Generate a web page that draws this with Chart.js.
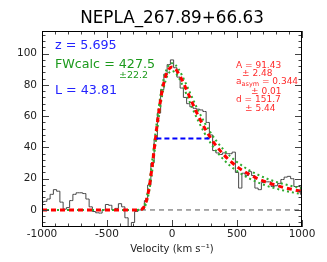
<!DOCTYPE html>
<html>
<head>
<meta charset="utf-8">
<script src="https://cdn.jsdelivr.net/npm/chart.js@4.4.1/dist/chart.umd.min.js"></script>
<style>
  html, body { margin: 0; padding: 0; background: #fff; }
</style>
</head>
<body>
<canvas id="myChart" width="327" height="262"></canvas>
<script>
  // observed spectrum (velocity bins, flux)
  var specVel = [-1000,-975,-950,-925,-900,-875,-850,-825,-800,-775,-750,-725,-700,-675,-650,-625,-600,-575,-550,-525,
                 -500,-475,-450,-425,-400,-375,-350,-325,-300,-275,-250,-225,-200,-175,-150,-125,-100,-75,-50,-25,
                 0,25,50,75,100,125,150,175,200,225,250,275,300,325,350,375,400,425,450,475,
                 500,525,550,575,600,625,650,675,700,725,750,775,800,825,850,875,900,925,950,975,1000];
  var specFlux = [5,5.5,7,10,13,12,5,0.5,1.5,6,10,11,11,10.5,7,2,-1,-1.8,-2,0,
                  3.5,3,0,1,4,2,-5,-13,-8,-1,0,0.5,6,16,30,45,62,77,87,93,
                  96,91,85,78,72,68,66,65,64.5,64,63,56,48,38,36.5,35.5,36.5,36,36,37,
                  24,14,23.5,22,24.5,22,14,13,17.5,18,18,15,15.5,17,19.5,21,21.5,20,15,15,10];

  // asymmetric gaussian fit
  var fitVel = [-1000,-950,-900,-850,-800,-750,-700,-650,-600,-550,-500,-450,-400,-350,-300,-250,
                -225,-200,-175,-150,-125,-100,-75,-50,-25,0,25,50,75,
                100,150,200,250,300,350,400,450,500,550,600,650,700,750,800,850,900,950,1000];
  var fitBest = [0,0,0,0,0,0,0,0,0,0,0,0,0,0,0,0.1,
                 0.9,5.0,14.7,29.7,47.2,63.6,76.6,85.3,90.0,91.4,90.3,87.5,83.6,
                 79.1,69.6,60.6,52.6,45.7,40.0,35.2,31.1,27.7,24.9,22.5,20.4,18.6,17.1,15.8,14.6,13.6,12.7,11.9];
  var fitUpper = [0,0,0,0,0,0,0,0,0,0,0,0,0,0,0,0.1,
                  1.4,6.4,17.3,33.2,50.9,67.0,79.6,88.1,92.6,93.9,92.9,90.2,86.4,
                  82.1,72.8,63.9,56.0,49.1,43.2,38.3,34.2,30.7,27.7,25.1,23.0,21.1,19.4,18.0,16.8,15.7,14.7,13.9];
  var fitLower = [0,0,0,0,0,0,0,0,0,0,0,0,0,0,0,0,
                  0.6,3.7,12.2,26.3,43.5,60.1,73.5,82.6,87.5,89.0,87.8,84.9,80.8,
                  76.2,66.4,57.3,49.2,42.4,36.7,32.0,28.1,24.9,22.2,19.9,18.0,16.3,14.9,13.7,12.6,11.7,10.9,10.2];

  // half maximum segment and zero level
  var hmVel = [-120, 290];
  var hmLevel = 45.7;
  var zeroVel = [-1000, 1000];

  var xTickVals = [-1000, -500, 0, 500, 1000];
  var yTickVals = [0, 20, 40, 60, 80, 100];

  var titleText = 'NEPLA_267.89+66.63';
  var xTitle = 'Velocity (km s\u207B\u00B9)';

  function pts(xs, ys) {
    return xs.map(function (v, i) { return { x: v, y: ys[i] }; });
  }

  var FONT = 'DejaVu Sans';

  var extras = {
    id: 'extras',
    afterDraw: function (chart) {
      var ctx = chart.ctx, a = chart.chartArea, x = chart.scales.x, y = chart.scales.y;
      ctx.save();
      function seg(x1, y1, x2, y2) { ctx.beginPath(); ctx.moveTo(x1, y1); ctx.lineTo(x2, y2); ctx.stroke(); }

      // inward ticks
      ctx.strokeStyle = '#444';
      ctx.lineWidth = 1;
      for (var v = -1000; v <= 1000; v += 100) {
        var px = Math.round(x.getPixelForValue(v)) + 0.5;
        var len = (v % 500 === 0) ? 7 : 3.5;
        seg(px, a.bottom, px, a.bottom - len);
        seg(px, a.top, px, a.top + len);
      }
      for (var w = -8; w <= 112; w += 4) {
        var py = Math.round(y.getPixelForValue(w)) + 0.5;
        var l2 = (w % 20 === 0) ? 7 : 3.5;
        seg(a.left, py, a.left + l2, py);
        seg(a.right, py, a.right - l2, py);
      }

      // frame
      ctx.strokeStyle = '#000';
      ctx.strokeRect(a.left + 0.5, a.top + 0.5, a.right - a.left - 1, a.bottom - a.top - 1);

      // title
      ctx.fillStyle = '#000';
      ctx.textAlign = 'center';
      ctx.textBaseline = 'alphabetic';
      ctx.font = '16.8px "' + FONT + '"';
      ctx.fillText(titleText, (a.left + a.right) / 2, 22.5);

      // left annotations
      ctx.textAlign = 'left';
      ctx.font = '12.7px "' + FONT + '"';
      ctx.fillStyle = '#2323ff';
      ctx.fillText('z = 5.695', 55, 49);
      ctx.fillStyle = '#1c9a1c';
      ctx.fillText('FWcalc = 427.5', 55, 68);
      ctx.font = '9.5px "' + FONT + '"';
      ctx.fillText('\u00B122.2', 119, 78);
      ctx.font = '12.7px "' + FONT + '"';
      ctx.fillStyle = '#2323ff';
      ctx.fillText('L = 43.81', 55, 94);

      // fit parameters
      ctx.fillStyle = '#ff2a2a';
      ctx.font = '9px "' + FONT + '"';
      ctx.fillText('A = 91.43', 236, 67.5);
      ctx.fillText('\u00B1 2.48', 242, 75.5);
      ctx.fillText('a', 236, 83.5);
      var aw = ctx.measureText('a').width;
      ctx.font = '6.5px "' + FONT + '"';
      ctx.fillText('asym', 236 + aw, 86);
      var sw = ctx.measureText('asym').width;
      ctx.font = '9px "' + FONT + '"';
      ctx.fillText(' = 0.344', 236 + aw + sw, 83.5);
      ctx.fillText('\u00B1 0.01', 251, 93.5);
      ctx.fillText('d = 151.7', 236, 101.5);
      ctx.fillText('\u00B1 5.44', 245, 111);
      ctx.restore();
    }
  };

  var ctx = document.getElementById('myChart').getContext('2d');
  var chart = new Chart(ctx, {
    type: 'line',
    data: {
      datasets: [
        { data: pts(hmVel, [hmLevel, hmLevel]), borderColor: '#0000ff', borderWidth: 2, borderDash: [5, 3] },
        { data: pts(fitVel, fitBest), borderColor: '#ff0000', borderWidth: 3, borderDash: [5, 4], cubicInterpolationMode: 'monotone' },
        { data: pts(fitVel, fitUpper), borderColor: '#2faa2f', borderWidth: 2, borderDash: [2, 3], cubicInterpolationMode: 'monotone' },
        { data: pts(fitVel, fitLower), borderColor: '#2faa2f', borderWidth: 2, borderDash: [2, 3], cubicInterpolationMode: 'monotone' },
        { data: pts(specVel, specFlux), borderColor: '#474747', borderWidth: 1, stepped: 'middle' },
        { data: pts(zeroVel, [0, 0]), borderColor: '#555', borderWidth: 1, borderDash: [5, 4] }
      ]
    },
    options: {
      responsive: false,
      animation: false,
      layout: { padding: { top: 31, right: 25, left: 0, bottom: 0 } },
      elements: { point: { radius: 0 }, line: { tension: 0, fill: false } },
      plugins: { legend: { display: false }, tooltip: { enabled: false }, title: { display: false } },
      scales: {
        x: {
          type: 'linear', min: -1000, max: 1000,
          grid: { display: false, drawTicks: false },
          border: { display: false },
          afterFit: function (s) { s.height = 35; },
          afterBuildTicks: function (s) { s.ticks = xTickVals.map(function (v) { return { value: v }; }); },
          ticks: { padding: 1, color: '#222', font: { family: FONT, size: 10.5 }, maxRotation: 0, autoSkip: false,
                   callback: function (v) { return String(v); } },
          title: { display: true, text: xTitle, color: '#222', font: { family: FONT, size: 10 }, padding: { top: 0, bottom: 7 } }
        },
        y: {
          type: 'linear', min: -10.9, max: 114.5,
          grid: { display: false, drawTicks: false },
          border: { display: false },
          afterFit: function (s) { s.width = 42; },
          afterBuildTicks: function (s) { s.ticks = yTickVals.map(function (v) { return { value: v }; }); },
          ticks: { padding: 5, color: '#222', font: { family: FONT, size: 10.5 }, autoSkip: false,
                   callback: function (v) { return String(v); } }
        }
      }
    },
    plugins: [extras]
  });
</script>
</body>
</html>
